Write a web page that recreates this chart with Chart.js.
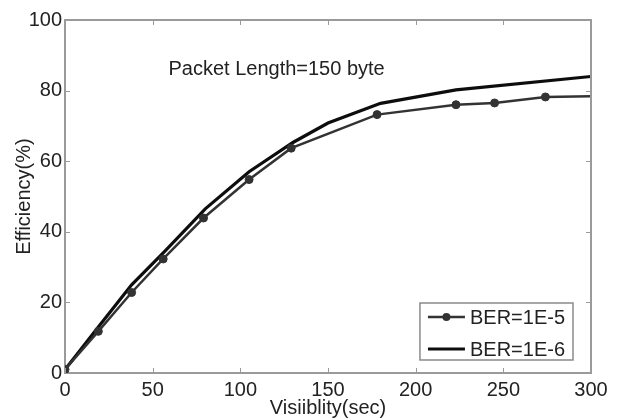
<!DOCTYPE html>
<html><head><meta charset="utf-8">
<script src="https://cdn.jsdelivr.net/npm/chart.js@4"></script>
<style>html,body{margin:0;padding:0;background:#fff;}#wrap{width:624px;height:420px;}</style>
</head><body><div id="wrap"><canvas id="c" width="624" height="420"></canvas></div>
<script>
// ---- data ----
const ber5X = [0, 19, 38, 56, 79, 105, 129, 178, 223, 245, 274, 300];
const ber5Y = [1, 11.8, 22.8, 32.3, 43.9, 54.8, 63.7, 73.2, 76.0, 76.5, 78.2, 78.4];
const ber6X = [0, 19, 38, 57, 80, 105, 130, 150, 180, 223, 300];
const ber6Y = [1, 13, 25, 34.5, 46.5, 57, 65.3, 70.8, 76.4, 80.2, 84.0];
const xTicks = [0, 50, 100, 150, 200, 250, 300];
const yTicks = [0, 20, 40, 60, 80, 100];
const seriesLabels = ['BER=1E-5', 'BER=1E-6'];
const xTitle = 'Visiiblity(sec)';
const yTitle = 'Efficiency(%)';
const annotationText = 'Packet Length=150 byte';
const annotationAt = [59, 86];

const FONT = "'Liberation Sans', Arial, sans-serif";
const FS = 20;
const toPts = (xs, ys) => xs.map((x, i) => ({x: x, y: ys[i]}));

const framePlugin = {
  id: 'frame',
  afterDatasetsDraw(chart) {
    const {ctx, chartArea: a, scales: {x, y}} = chart;
    ctx.save();
    ctx.strokeStyle = '#9a9a9a';
    ctx.lineWidth = 2;
    ctx.beginPath();
    ctx.moveTo(a.left, a.top); ctx.lineTo(a.right, a.top); ctx.lineTo(a.right, a.bottom);
    ctx.stroke();
    ctx.lineWidth = 1;
    const L = 5;
    ctx.beginPath();
    xTicks.forEach(v => {
      const p = Math.round(x.getPixelForValue(v)) + 0.5;
      ctx.moveTo(p, a.bottom); ctx.lineTo(p, a.bottom - L);
      ctx.moveTo(p, a.top); ctx.lineTo(p, a.top + L);
    });
    yTicks.forEach(v => {
      const p = Math.round(y.getPixelForValue(v)) + 0.5;
      ctx.moveTo(a.left, p); ctx.lineTo(a.left + L, p);
      ctx.moveTo(a.right, p); ctx.lineTo(a.right - L, p);
    });
    ctx.stroke();
    // annotation
    ctx.fillStyle = '#222';
    ctx.font = FS + 'px ' + FONT;
    ctx.textAlign = 'left';
    ctx.textBaseline = 'middle';
    ctx.fillText(annotationText, x.getPixelForValue(annotationAt[0]), y.getPixelForValue(annotationAt[1]));
    // legend
    const ds = chart.data.datasets;
    const rowH = 32, lineLen = 37, gap = 5, padX = 8;
    const tw = Math.max(...ds.map(d => ctx.measureText(d.label).width));
    const w = padX + lineLen + gap + tw + padX;
    const h = 57;
    const bx = a.right - 18 - w, by = a.bottom - 13 - h;
    ctx.fillStyle = '#fff';
    ctx.fillRect(bx, by, w, h);
    ctx.strokeStyle = '#8a8a8a';
    ctx.lineWidth = 1.5;
    ctx.strokeRect(bx, by, w, h);
    ds.forEach((d, i) => {
      const cy = by + 14 + i * rowH;
      ctx.strokeStyle = d.borderColor;
      ctx.lineWidth = d.borderWidth;
      ctx.beginPath();
      ctx.moveTo(bx + padX, cy); ctx.lineTo(bx + padX + lineLen, cy);
      ctx.stroke();
      if (d.legendMarker) {
        ctx.fillStyle = d.pointBackgroundColor;
        ctx.beginPath();
        ctx.arc(bx + padX + lineLen / 2, cy, 4, 0, Math.PI * 2);
        ctx.fill();
      }
      ctx.fillStyle = '#222';
      ctx.fillText(d.label, bx + padX + lineLen + gap, cy + 1);
    });
    ctx.restore();
  }
};

new Chart(document.getElementById('c'), {
  type: 'line',
  data: {
    datasets: [
      {label: seriesLabels[0], data: toPts(ber5X, ber5Y), borderColor: '#333', borderWidth: 2.5,
       legendMarker: true,
       pointRadius: ctx => (ctx.dataIndex === ber5X.length - 1 ? 0 : 4),
       pointBackgroundColor: '#333', pointBorderColor: '#333', pointBorderWidth: 1, tension: 0},
      {label: seriesLabels[1], data: toPts(ber6X, ber6Y), borderColor: '#0d0d0d', borderWidth: 3.2,
       pointRadius: 0, tension: 0}
    ]
  },
  options: {
    responsive: false,
    animation: false,
    devicePixelRatio: 1,
    layout: {padding: {left: 0, right: 33, top: 20, bottom: 0}},
    plugins: {legend: {display: false}, tooltip: {enabled: false}},
    scales: {
      x: {
        type: 'linear', min: 0, max: 300,
        afterBuildTicks: s => { s.ticks = xTicks.map(v => ({value: v})); },
        ticks: {color: '#222', font: {size: FS, family: FONT}, padding: 5, maxRotation: 0},
        grid: {display: false, drawTicks: false},
        border: {display: true, color: '#9a9a9a', width: 2},
        title: {display: true, text: xTitle, color: '#222', font: {size: FS, family: FONT}, padding: {top: 0, bottom: 0}},
        afterFit: s => { s.height = 47; }
      },
      y: {
        type: 'linear', min: 0, max: 100,
        afterBuildTicks: s => { s.ticks = yTicks.map(v => ({value: v})); },
        ticks: {color: '#222', font: {size: FS, family: FONT}, padding: 3},
        grid: {display: false, drawTicks: false},
        border: {display: true, color: '#9a9a9a', width: 2},
        title: {display: true, text: yTitle, color: '#222', font: {size: FS, family: FONT}, padding: {top: 12, bottom: 0}},
        afterFit: s => { s.width = 65; }
      }
    }
  },
  plugins: [framePlugin]
});
</script></body></html>
